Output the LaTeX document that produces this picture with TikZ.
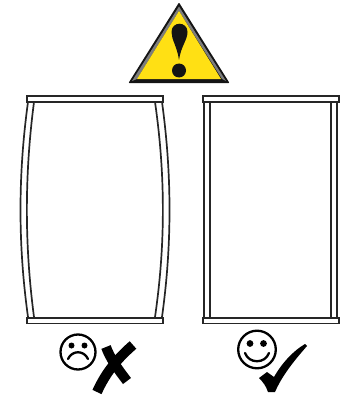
\documentclass[tikz,border=0pt]{standalone}
\usepackage{tikz}
\usetikzlibrary{positioning, calc}

\definecolor{signyellow}{RGB}{255,224,20}
\definecolor{signgray}{RGB}{125,125,125}
\definecolor{signblack}{RGB}{20,20,20}

\tikzset{
  frameline/.style={draw=black!85, line width=1.7pt},
  barbox/.style={frameline, fill=white},
  faceline/.style={draw=black, line width=2.3pt, line cap=round},
  facedot/.style={fill=black, draw=none},
  crossline/.style={draw=black, line width=10pt}
}

\begin{document}
\begin{tikzpicture}[x=1pt, y=-1pt]
          \useasboundingbox (0,0) rectangle (349,396);
          % warning sign
          \fill[signblack, rounded corners=0.8pt] (179,2.5) -- (229.5,83) -- (128.5,83) -- cycle;
          \fill[signgray] (179,6.5) -- (226,81) -- (222,79) -- (179,11) -- (137,79) -- (132,81) -- cycle;
          \fill[signyellow] (179,11) -- (221,79) -- (137,79) -- cycle;
          \fill[signblack] (179,60) .. controls (177,46) and (171.5,40) .. (171.5,32)
              .. controls (171.5,21) and (187.5,21) .. (187.5,32)
              .. controls (187.5,40) and (181,46) .. (179,60) -- cycle;
          \fill[signblack] (179,70.5) circle (7);
          % bent frame
          \draw[frameline] (28,102) .. controls (18,175) and (18,245) .. (28,317);
          \draw[frameline] (34,102) .. controls (24.5,175) and (24.5,245) .. (34,317);
          \draw[frameline] (162,102) .. controls (172,175) and (172,245) .. (162,317);
          \draw[frameline] (155,102) .. controls (165.5,175) and (165.5,245) .. (155,317);
          % straight frame
          \foreach \postx in {204,210,331,337} {
            \draw[frameline] (\postx,102) -- (\postx,317);
          }
          % top and bottom bars
          \foreach \barx in {27,203} {
            \draw[barbox] (\barx,96) rectangle ++(136,6);
            \draw[barbox] (\barx,318) rectangle ++(136,5.5);
          }
          % sad face and cross
          \draw[faceline] (78,352) circle (17.5);
          \fill[facedot] (71.5,345.5) circle (3);
          \fill[facedot] (84.5,345.5) circle (3);
          \draw[faceline] (68,359) .. controls (72,350) and (84,350) .. (88,359);
          \draw[crossline] (97,392) .. controls (106,372) and (118,358) .. (133,345);
          \draw[crossline] (106,347) .. controls (110,358) and (117,368) .. (127,381);
          % happy face and tick
          \draw[faceline] (257,349.5) circle (18.8);
          \fill[facedot] (250,343.5) circle (3.4);
          \fill[facedot] (263.5,343.5) circle (3.4);
          \draw[faceline] (245,353) .. controls (249,364) and (265,364) .. (269,353);
          \fill[black] (259,378) -- (267,372) -- (274,377)
              .. controls (282,363) and (293,351) .. (305,344)
              -- (307,346) .. controls (293,362) and (282,376) .. (275,392)
              -- (268,392) .. controls (266,386) and (263,382) .. (259,378) -- cycle;
      \end{tikzpicture}
\end{document}
